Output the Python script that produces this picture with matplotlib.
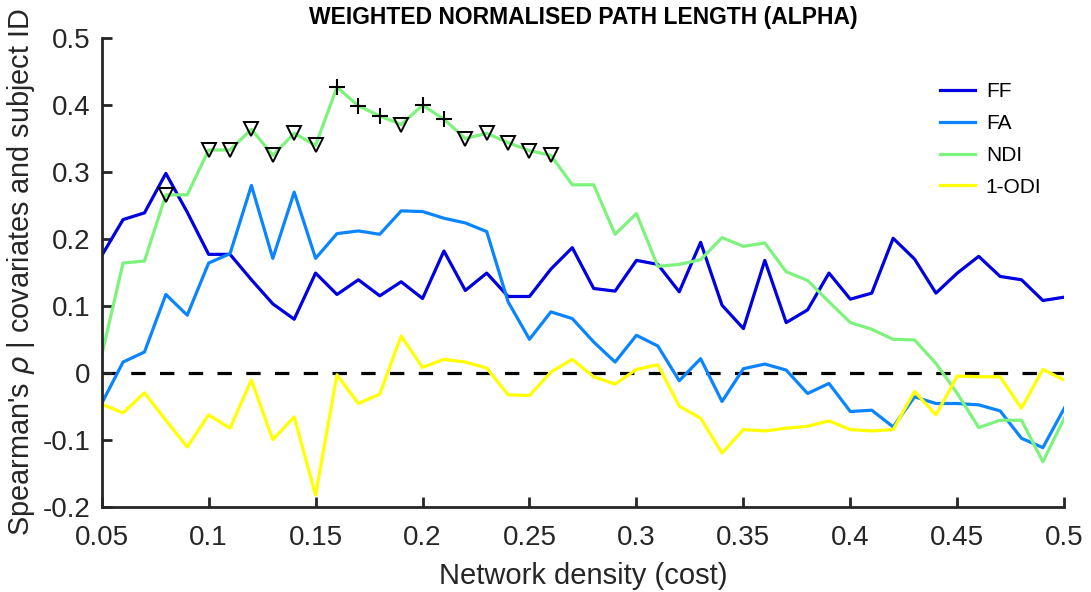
import numpy as np
import matplotlib
matplotlib.use("Agg")
import matplotlib.pyplot as plt

# network densities (cost)
density = np.round(np.arange(0.05, 0.501, 0.01), 2)

ff = [0.175, 0.229, 0.239, 0.298, 0.240, 0.177, 0.177, 0.139, 0.103, 0.080,
      0.149, 0.117, 0.139, 0.115, 0.136, 0.111, 0.182, 0.123, 0.149, 0.114,
      0.114, 0.155, 0.187, 0.126, 0.122, 0.168, 0.162, 0.121, 0.195, 0.101,
      0.066, 0.168, 0.075, 0.094, 0.149, 0.110, 0.119, 0.201, 0.170, 0.119,
      0.149, 0.174, 0.144, 0.139, 0.108, 0.113]
fa = [-0.046, 0.016, 0.031, 0.117, 0.086, 0.164, 0.178, 0.280, 0.171, 0.270,
      0.171, 0.208, 0.212, 0.207, 0.242, 0.241, 0.231, 0.224, 0.211, 0.106,
      0.050, 0.091, 0.081, 0.046, 0.016, 0.056, 0.040, -0.012, 0.021, -0.043,
      0.006, 0.013, 0.004, -0.031, -0.016, -0.058, -0.056, -0.081, -0.036, -0.046,
      -0.046, -0.048, -0.057, -0.098, -0.112, -0.053]
ndi = [0.026, 0.164, 0.167, 0.266, 0.266, 0.333, 0.333, 0.364, 0.325, 0.358,
       0.340, 0.427, 0.399, 0.384, 0.371, 0.400, 0.379, 0.350, 0.358, 0.344,
       0.332, 0.325, 0.281, 0.281, 0.207, 0.238, 0.159, 0.162, 0.169, 0.202,
       0.189, 0.194, 0.151, 0.138, 0.106, 0.075, 0.065, 0.050, 0.049, 0.014,
       -0.031, -0.082, -0.071, -0.071, -0.133, -0.068]
odi = [-0.047, -0.060, -0.030, -0.071, -0.111, -0.063, -0.083, -0.011, -0.100, -0.066,
       -0.183, -0.003, -0.046, -0.032, 0.055, 0.008, 0.020, 0.016, 0.007, -0.033,
       -0.034, 0.001, 0.020, -0.006, -0.017, 0.005, 0.012, -0.050, -0.068, -0.120,
       -0.085, -0.087, -0.083, -0.080, -0.072, -0.085, -0.087, -0.085, -0.028, -0.063,
       -0.005, -0.006, -0.006, -0.053, 0.005, -0.011]

# significance markers on the NDI curve
tri_cost = [0.08, 0.10, 0.11, 0.12, 0.13, 0.14, 0.15, 0.19, 0.22, 0.23, 0.24, 0.25, 0.26]
plus_cost = [0.16, 0.17, 0.18, 0.20, 0.21]

labels = ["FF", "FA", "NDI", "1-ODI"]
colors = ["#0000E0", "#0A84FF", "#7DF27D", "#FFFF00"]

plt.rcParams["font.family"] = ["Liberation Sans", "DejaVu Sans"]
fig = plt.figure(figsize=(10.91, 5.92), dpi=100)
ax = fig.add_axes([0.0932, 0.1444, 0.8823, 0.7909])

for vals, lab, c in zip([ff, fa, ndi, odi], labels, colors):
    ax.plot(density, vals, color=c, lw=2.3, label=lab)

ax.axhline(0, color="black", lw=2.3, ls=(0, (4.5, 4.5)), zorder=1)

idx = {round(d, 2): i for i, d in enumerate(density)}
ndi = np.array(ndi)
ti = [idx[c] for c in tri_cost]
pi = [idx[c] for c in plus_cost]
ax.plot(density[ti], ndi[ti], ls="none", marker="v", ms=10, mfc="none",
        mec="black", mew=1.4, zorder=5)
ax.plot(density[pi], ndi[pi], ls="none", marker="+", ms=11, color="black",
        mew=1.5, zorder=5)

ax.set_xlim(0.05, 0.5)
ax.set_ylim(-0.2, 0.5)
ax.set_xticks(np.arange(0.05, 0.51, 0.05))
ax.set_xticklabels(["0.05", "0.1", "0.15", "0.2", "0.25", "0.3", "0.35", "0.4", "0.45", "0.5"])
ax.set_yticks(np.arange(-0.2, 0.51, 0.1))
ax.set_yticklabels(["-0.2", "-0.1", "0", "0.1", "0.2", "0.3", "0.4", "0.5"])
ax.spines["top"].set_visible(False)
ax.spines["right"].set_visible(False)
for s in ["left", "bottom"]:
    ax.spines[s].set_linewidth(2)
    ax.spines[s].set_color("#262626")
ax.tick_params(direction="in", length=7, width=2, colors="#262626", labelsize=20)
ax.tick_params(axis="x", pad=13)
ax.tick_params(axis="y", pad=8)

ax.set_xlabel("Network density (cost)", fontsize=21, color="#262626", labelpad=8)
ax.set_ylabel(r"Spearman's $\rho$ | covariates and subject ID", fontsize=20.8,
              color="#262626")
ax.yaxis.set_label_coords(-0.067, 0.5)
ax.set_title("WEIGHTED NORMALISED PATH LENGTH (ALPHA)", fontsize=16.5,
             fontweight="bold", pad=10)

leg = fig.legend(*ax.get_legend_handles_labels(), loc="upper left",
                 bbox_to_anchor=(940 / 1091, 1 - 82 / 592), frameon=False,
                 fontsize=15, handlelength=1.7, labelspacing=0.62,
                 handletextpad=0.5, borderpad=0, borderaxespad=0)

plt.savefig("out.png", dpi=100)
